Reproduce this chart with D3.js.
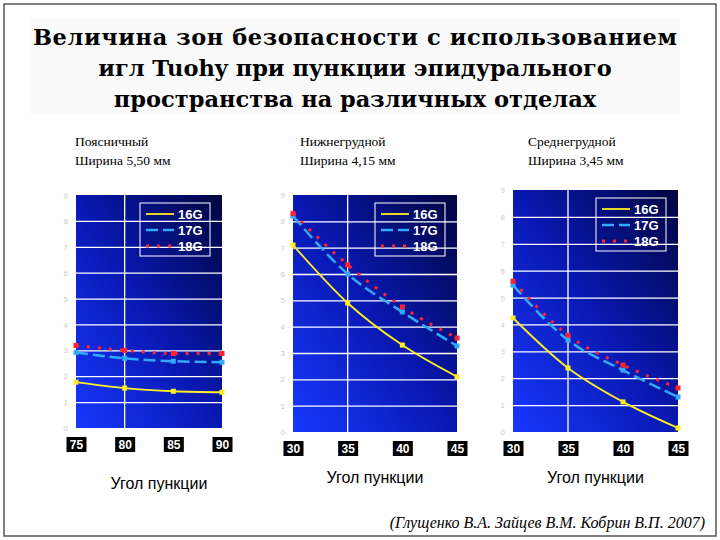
<!DOCTYPE html><html><head><meta charset="utf-8"><script src="https://cdn.jsdelivr.net/npm/d3@7"></script>
<style>body{margin:0;background:#fff}</style></head><body><svg id="c" width="720" height="540"></svg>
<script>
const titleLines=["Величина зон безопасности с использованием","игл Tuohy при пункции эпидурального","пространства на различных отделах"];
const panelTitles=[["Поясничный","Ширина 5,50 мм"],["Нижнегрудной","Ширина 4,15 мм"],["Среднегрудной","Ширина 3,45 мм"]];
const xTicks=[[75,80,85,90],[30,35,40,45],[30,35,40,45]];
const series=["16G","17G","18G"];
const v16=[[1.77,1.54,1.42,1.38],[7.1,4.9,3.3,2.1],[4.24,2.38,1.12,0.15]];
const v17=[[2.92,2.69,2.58,2.54],[8.2,6.0,4.56,3.27],[5.46,3.42,2.3,1.3]];
const v18=[[3.19,3.0,2.88,2.88],[8.3,6.35,4.75,3.57],[5.61,3.6,2.49,1.64]];
const xLabel="Угол пункции";
const source="(Глущенко В.А. Зайцев В.М. Кобрин В.П. 2007)";

const svg=d3.select("#c");
svg.append("rect").attr("x",4).attr("y",4).attr("width",712).attr("height",532).attr("fill","none").attr("stroke","#555").attr("stroke-width",1.5);
svg.append("rect").attr("x",30).attr("y",18).attr("width",650).attr("height",96).attr("fill","#fafafa");
titleLines.forEach((t,i)=>svg.append("text").attr("x",355).attr("y",45+i*31).attr("text-anchor","middle")
 .attr("font-family","DejaVu Serif").attr("font-weight","bold").attr("font-size",22.5).attr("textLength",i==0?644:null).text(t));
const defs=svg.append("defs");
const g=defs.append("linearGradient").attr("id","bg").attr("x1","0").attr("y1","1").attr("x2","1").attr("y2","0");
g.append("stop").attr("offset","0").attr("stop-color","#1838ff");
g.append("stop").attr("offset","0.5").attr("stop-color","#0818b0");
g.append("stop").attr("offset","1").attr("stop-color","#010540");
const boxes=[{x0:76,x1:222,y0:195,y1:428,tx:75},{x0:293,x1:457,y0:195,y1:432,tx:300},{x0:513,x1:678,y0:190,y1:432,tx:528}];
const styles={"16G":{c:"#ffee22",d:null,w:1.8},"17G":{c:"#33aaff",d:"12,5",w:2.5},"18G":{c:"#ff2233",d:"3,8",w:3}};
boxes.forEach((b,p)=>{
 panelTitles[p].forEach((t,i)=>svg.append("text").attr("x",b.tx).attr("y",146+i*19).attr("font-family","Liberation Serif").attr("font-size",13.5).attr("font-weight","500").text(t));
 const x=d3.scaleLinear().domain([xTicks[p][0],xTicks[p][3]]).range([b.x0,b.x1]);
 const y=d3.scaleLinear().domain([0,9]).range([b.y1,b.y0]);
 svg.append("rect").attr("x",b.x0).attr("y",b.y0).attr("width",b.x1-b.x0).attr("height",b.y1-b.y0).attr("fill","url(#bg)");
 const gy=svg.append("g").attr("transform",`translate(${b.x0},0)`).call(d3.axisLeft(y).ticks(9).tickSize(-(b.x1-b.x0)).tickFormat(d=>d));
 gy.select(".domain").remove();
 gy.selectAll("line").attr("stroke","#fff").attr("stroke-width",1.3).attr("opacity",d=>d===0||d===9?0:1);
 gy.selectAll("text").attr("fill","#ccc").attr("font-size",8).attr("x",-8);
 const gx=svg.append("g").attr("transform",`translate(0,${b.y1})`).call(d3.axisBottom(x).tickValues(xTicks[p]).tickSize(0));
 gx.select(".domain").remove();
 gx.selectAll(".tick").insert("rect","text").attr("x",-10).attr("y",9).attr("width",20).attr("height",15).attr("fill","#000");
 gx.selectAll("text").attr("fill","#fff").attr("font-family","Liberation Sans").attr("font-weight","bold").attr("font-size",12).attr("dy",0).attr("y",21);
 svg.append("g").selectAll("line").data([xTicks[p][1]]).join("line").attr("x1",d=>x(d)).attr("x2",d=>x(d)).attr("y1",b.y0).attr("y2",b.y1).attr("stroke","#fff").attr("stroke-width",1.3);
 const data={"16G":v16[p],"17G":v17[p],"18G":v18[p]};
 series.forEach(s=>{
  const st=styles[s];
  const pts=data[s].map((v,i)=>[x(xTicks[p][i]),y(v)]);
  svg.append("path").attr("d",d3.line().curve(d3.curveMonotoneX)(pts)).attr("fill","none").attr("stroke",st.c).attr("stroke-width",st.w).attr("stroke-dasharray",st.d);
  svg.append("g").selectAll("rect").data(pts).join("rect").attr("x",d=>d[0]-2.5).attr("y",d=>d[1]-2.5).attr("width",5).attr("height",5).attr("fill",st.c);
 });
 const lx=b.x1-82, ly=b.y0+8;
 svg.append("rect").attr("x",lx).attr("y",ly).attr("width",70).attr("height",53).attr("fill","none").attr("stroke","#fff");
 series.forEach((s,i)=>{const st=styles[s];const yy=ly+11+i*16;
  svg.append("line").attr("x1",lx+6).attr("x2",lx+34).attr("y1",yy).attr("y2",yy).attr("stroke",st.c).attr("stroke-width",st.w).attr("stroke-dasharray",st.d);
  svg.append("text").attr("x",lx+38).attr("y",yy+5).attr("fill","#fff").attr("font-family","Liberation Sans").attr("font-weight","bold").attr("font-size",13).text(s);});
 svg.append("text").attr("x",(b.x0+b.x1)/2+[10,0,0][p]).attr("y",[489,483,483][p]).attr("text-anchor","middle").attr("font-family","Liberation Sans").attr("font-size",16).text(xLabel);
});
svg.append("text").attr("x",705).attr("y",528).attr("text-anchor","end").attr("font-family","Liberation Serif").attr("font-style","italic").attr("font-size",16).text(source);
</script></body></html>
